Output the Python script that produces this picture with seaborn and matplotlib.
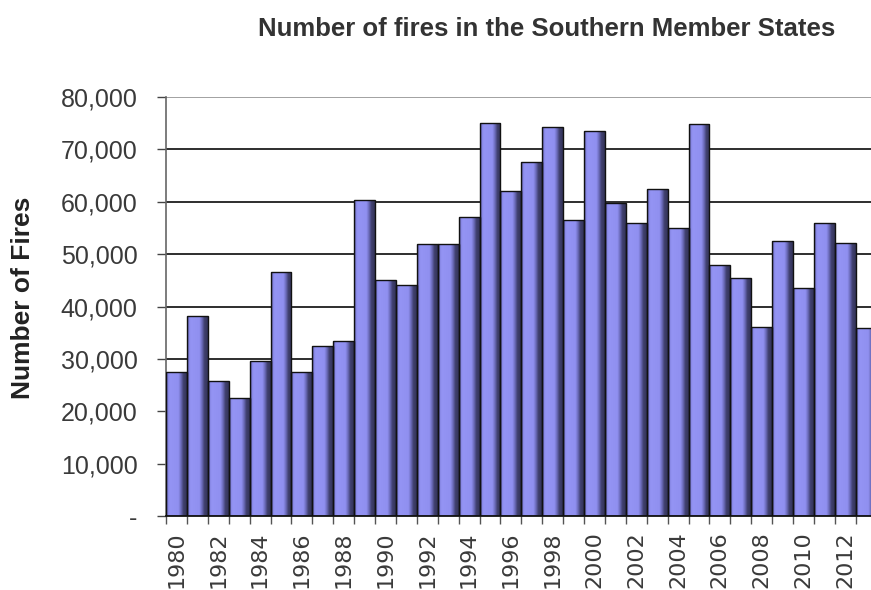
import numpy as np
import pandas as pd
import matplotlib
matplotlib.use("Agg")
import matplotlib.pyplot as plt
from matplotlib.colors import LinearSegmentedColormap
from matplotlib.ticker import FuncFormatter, FixedLocator
import seaborn as sns

# Annual number of fires, Southern Member States
years = [str(y) for y in range(1980, 2014)]
fires = [27400, 38200, 25800, 22600, 29600, 46600, 27500, 32500, 33500, 60400,
         45000, 44100, 51900, 51900, 57100, 75100, 62000, 67500, 74200, 56500,
         73500, 59700, 55900, 62500, 55000, 74900, 47900, 45500, 36100, 52500,
         43500, 55900, 52200, 35800]
y_ticks = [0, 10000, 20000, 30000, 40000, 50000, 60000, 70000, 80000]
x_label_years = years[::2]

sns.set_style("white")
plt.rcParams["font.family"] = ["Liberation Sans", "DejaVu Sans"]

fig = plt.figure(figsize=(8.71, 5.90), dpi=100)
W, H = 871, 590
left, right, top, bottom = 166, 876.6, 97, 516
ax = fig.add_axes([left / W, 1 - bottom / H, (right - left) / W, (bottom - top) / H])

df = pd.DataFrame({"year": years, "fires": fires})
sns.barplot(data=df, x="year", y="fires", ax=ax, width=1.0, color="#9090f0",
            edgecolor="#111111", linewidth=1.0, saturation=1)

# shaded fill for each bar: dark left rim, light body, dark right band
shade = LinearSegmentedColormap.from_list(
    "barshade",
    [(0.0, "#4a4a88"), (0.10, "#8a8ae8"), (0.18, "#9494f4"), (0.60, "#9090f0"),
     (0.72, "#6a6ab8"), (0.84, "#40406e"), (1.0, "#33335a")])
grad = np.linspace(0, 1, 64).reshape(1, -1)
for p in ax.patches:
    x0, w, h = p.get_x(), p.get_width(), p.get_height()
    im = ax.imshow(grad, cmap=shade, aspect="auto", extent=(x0, x0 + w, 0, h),
                   origin="lower", zorder=2.5, interpolation="bilinear")
    im.set_clip_path(p)
    p.set_facecolor("none")
    p.set_zorder(3)

ax.set_xlim(-0.5, len(years) - 0.5)
ax.set_ylim(0, 80000)

# horizontal gridlines
ax.set_axisbelow(True)
ax.yaxis.set_major_locator(FixedLocator(y_ticks))
ax.grid(axis="y", color="#1e1e1e", linewidth=1.3)
ax.get_ygridlines()[-1].set_color("#9a9a9a")
ax.grid(axis="x", visible=False)

ax.yaxis.set_major_formatter(FuncFormatter(lambda v, _: "-" if v == 0 else f"{int(v):,}"))
ax.tick_params(axis="y", which="major", left=True, length=6.5, width=1.0, color="#444444",
               pad=14, labelsize=18, labelcolor="#3a3a3a")

# year labels every other bar, tick marks at bar boundaries
ax.set_xticks(range(0, len(years), 2))
ax.set_xticklabels(x_label_years, rotation=90, fontsize=16, color="#3a3a3a",
                   family=["DejaVu Sans"])
ax.tick_params(axis="x", which="major", length=0, pad=11)
ax.set_xticks(np.arange(-0.5, len(years), 1.0), minor=True)
ax.tick_params(axis="x", which="minor", bottom=True, length=6, width=1.0, color="#555555")

for s in ["top", "right"]:
    ax.spines[s].set_visible(False)
ax.spines["left"].set_color("#666666")
ax.spines["left"].set_linewidth(1.2)
ax.spines["bottom"].set_color("#111111")
ax.spines["bottom"].set_linewidth(1.3)

ax.set_xlabel("")
ax.set_ylabel("Number of Fires", fontsize=19, fontweight="bold", color="#222222")
ax.yaxis.set_label_coords((23 - left) / (right - left), (bottom - 297.5) / (bottom - top))
ax.yaxis.label.set_va("center")

fig.text(547 / W, 1 - 29 / H, "Number of fires in the Southern Member States",
         ha="center", va="center", fontsize=18.5, fontweight="bold", color="#333333")

fig.savefig("out.png", dpi=100)
